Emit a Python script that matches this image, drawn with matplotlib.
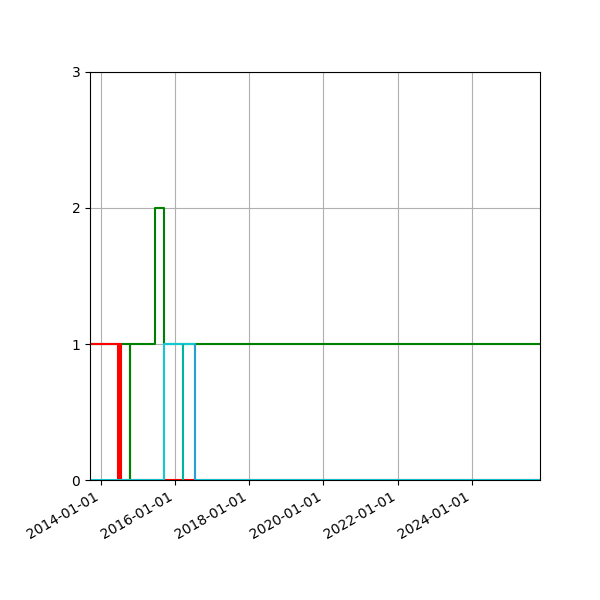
import matplotlib
matplotlib.use("Agg")
import matplotlib.pyplot as plt
import matplotlib.dates as mdates
import numpy as np
import pandas as pd

# Data
x_start = "2013-09-17"
x_end = "2025-11-01"

green_dates = ["2013-09-17", "2014-10-17", "2014-10-19", "2015-06-18", "2015-09-17", "2025-11-01"]
green_vals = [1, 0, 1, 2, 1, 1]

red_dates = ["2013-09-17", "2014-06-16", "2014-07-01", "2014-07-16", "2025-11-01"]
red_vals = [1, 0, 1, 0, 0]

cyan_dates = ["2013-09-17", "2015-09-17", "2016-07-16", "2025-11-01"]
cyan_vals = [0, 1, 0, 0]

event_dates = ["2016-03-22", "2016-07-16"]
event_vals = [1, 1]
event_colors = ["#00b5a0", "#2a9fd6"]

y_ticks = [0, 1, 2, 3]

fig = plt.figure(figsize=(6, 6), dpi=100)
ax = fig.add_axes([0.15, 0.2, 0.75, 0.68])

ax.step(pd.to_datetime(green_dates), green_vals, where="post", color="green", lw=1.5)
ax.step(pd.to_datetime(red_dates), red_vals, where="post", color="red", lw=1.5)
ax.step(pd.to_datetime(cyan_dates), cyan_vals, where="post", color="#12c8d2", lw=1.5)
ax.vlines(pd.to_datetime(event_dates), 0, event_vals, colors=event_colors, lw=1.5)

ax.set_xlim(pd.to_datetime(x_start), pd.to_datetime(x_end))
ax.set_ylim(0, 3)
ax.set_yticks(y_ticks)
ax.xaxis.set_major_locator(mdates.YearLocator(2))
ax.xaxis.set_major_formatter(mdates.DateFormatter("%Y-%m-%d"))
ax.grid(True)
for lbl in ax.get_xticklabels():
    lbl.set_rotation(30)
    lbl.set_ha("right")

fig.savefig("out.png", dpi=100)
